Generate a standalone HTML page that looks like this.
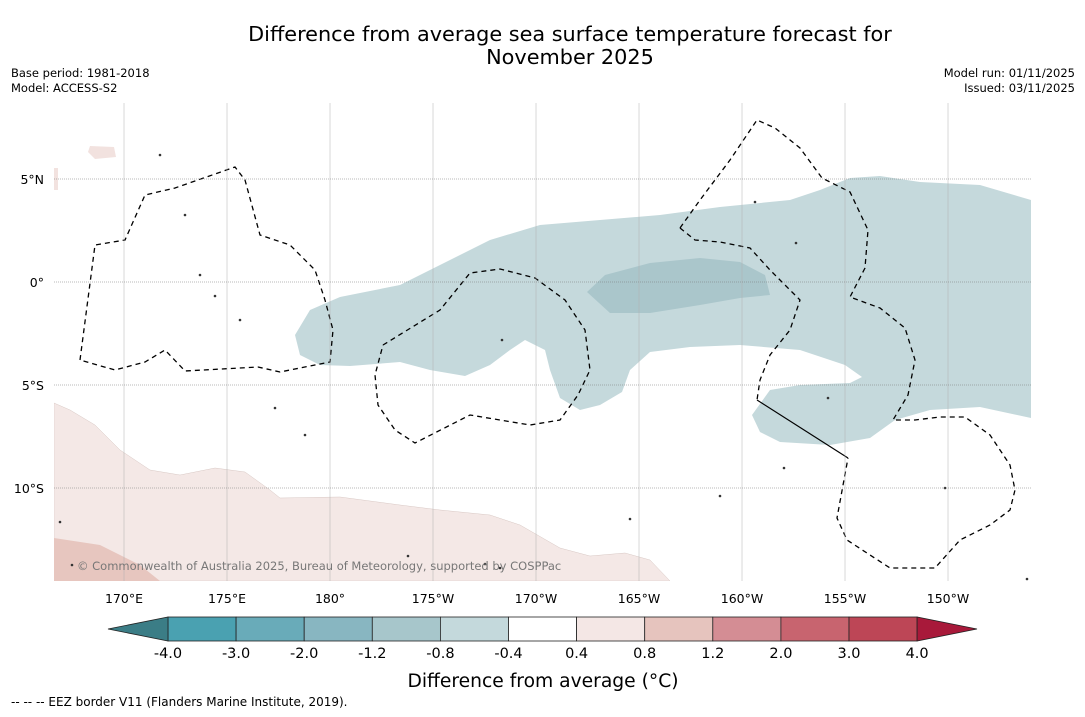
<!DOCTYPE html>
<html><head><meta charset="utf-8"><style>
body{margin:0;background:#fff;width:1085px;height:713px;overflow:hidden;font-family:"DejaVu Sans","Liberation Sans",sans-serif;}
svg text{font-family:"DejaVu Sans","Liberation Sans",sans-serif;}
</style></head><body>
<svg id="c" width="1085" height="713" xmlns="http://www.w3.org/2000/svg">
<text x="570" y="41" text-anchor="middle" font-size="20.8">Difference from average sea surface temperature forecast for</text>
<text x="570" y="64" text-anchor="middle" font-size="20.8">November 2025</text>
<text x="11" y="77" font-size="11.5">Base period: 1981-2018</text>
<text x="11" y="92" font-size="11.5">Model: ACCESS-S2</text>
<text x="1075" y="77" font-size="11.5" text-anchor="end">Model run: 01/11/2025</text>
<text x="1075" y="92" font-size="11.5" text-anchor="end">Issued: 03/11/2025</text>
<g id="map"></g>
<g id="cbar"></g>
<text x="543" y="687" text-anchor="middle" font-size="18.7">Difference from average (°C)</text>
<text x="11" y="706" font-size="12">-- -- -- EEZ border V11 (Flanders Marine Institute, 2019).</text>
</svg>
<script>
const lonTicks=[170,175,180,185,190,195,200,205,210];
const lonLabels=["170°E","175°E","180°","175°W","170°W","165°W","160°W","155°W","150°W"];
const latTicks=[5,0,-5,-10];
const latLabels=["5°N","0°","5°S","10°S"];
const cbEdges=[-4.0,-3.0,-2.0,-1.2,-0.8,-0.4,0.4,0.8,1.2,2.0,3.0,4.0];
const cbColors=["#4aa1b1","#69abb9","#88b6c1","#a7c6cb","#c4d9dc","#ffffff","#f4e7e5","#e6c4be","#d48d94","#c8646f","#bd4656"];
const cbLow="#3b7d86", cbHigh="#a8193a";
const NS="http://www.w3.org/2000/svg";
const X0=54,X1=1031,Y0=103,Y1=581;
function xs(lon){return 330+(lon-180)*20.6;}
function ys(lat){return 282-lat*20.6;}
function el(t,a,p){const e=document.createElementNS(NS,t);for(const k in a)e.setAttribute(k,a[k]);p.appendChild(e);return e;}
const map=document.getElementById('map');
const defs=el('defs',{},map);
const cp=el('clipPath',{id:'clip'},defs);el('rect',{x:X0,y:Y0,width:X1-X0,height:Y1-Y0},cp);
const g=el('g',{'clip-path':'url(#clip)'},map);
function poly(pts,fill,name,extra){const p=el('polygon',Object.assign({points:pts.map(q=>q.join(',')).join(' '),fill:fill},extra||{}),g);

return p;}
poly([[54,403],[70,410],[95,425],[120,450],[150,470],[180,475],[215,468],[245,472],[270,490],[280,498],[340,497],[400,505],[440,510],[490,515],[520,525],[560,548],[590,556],[625,553],[650,560],[670,581],[54,581]],"#f4e8e6","warm-anomaly-region",{stroke:"#d8c8c4","stroke-width":0.5});
poly([[54,538],[100,545],[140,565],[160,581],[54,581]],"#e7c6bf","warm-anomaly-region-2");
poly([[54,168],[58,168],[58,190],[54,190]],"#f2e2df","warm-patch-north");
poly([[90,146],[114,147],[116,157],[95,159],[88,152]],"#f2e2df","warm-patch-island");
poly([[295,335],[310,310],[340,297],[400,285],[440,265],[490,240],[540,225],[600,220],[660,215],[720,207],[790,200],[820,190],[850,178],[880,176],[920,182],[980,185],[1031,200],[1031,418],[980,407],[930,410],[895,420],[870,438],[830,445],[780,442],[760,432],[752,415],[770,390],[800,385],[850,383],[862,377],[845,365],[800,350],[740,345],[690,347],[650,352],[630,370],[622,392],[600,405],[580,410],[560,398],[550,370],[545,350],[525,340],[510,350],[490,365],[465,376],[430,370],[400,362],[350,366],[320,365],[300,355]],"#c5d9dc","cool-anomaly-region");
poly([[587,292],[605,275],[650,263],[700,258],[740,262],[765,275],[770,295],[740,298],[700,305],[650,313],[610,313]],"#aac6cb","cool-anomaly-core");
lonTicks.forEach((v,i)=>{const l=el('line',{x1:xs(v),x2:xs(v),y1:Y0,y2:Y1,stroke:"#b0b0b0","stroke-width":0.5},map);


const t=el('text',{x:xs(v),y:603,'font-size':12.5,'text-anchor':'middle'},map);t.textContent=lonLabels[i];

});
latTicks.forEach((v,i)=>{const l=el('line',{x1:X0,x2:X1,y1:ys(v),y2:ys(v),stroke:"#777","stroke-width":0.6,'stroke-dasharray':'1,1'},map);


const t=el('text',{x:44,y:ys(v)+5,'font-size':12.5,'text-anchor':'end'},map);t.textContent=latLabels[i];

});
function dash(pts,name){const p=el('polyline',{points:pts.map(q=>q.join(',')).join(' '),fill:'none',stroke:'#000','stroke-width':1.3,'stroke-dasharray':'5,4'},g);

}
dash([[80,360],[95,245],[125,240],[145,195],[175,188],[235,167],[245,180],[260,235],[290,245],[315,270],[325,300],[333,330],[330,362],[280,372],[258,367],[185,371],[165,350],[145,362],[115,370],[80,360]],"eez-border-west");
dash([[383,345],[440,310],[470,273],[500,269],[535,278],[565,300],[585,330],[590,370],[578,395],[560,420],[530,425],[470,415],[415,443],[395,430],[378,405],[375,375],[383,345]],"eez-border-central");
dash([[680,228],[700,200],[730,160],[757,120],[775,128],[800,148],[822,178],[850,192],[868,230],[865,268],[850,297],[880,308],[905,328],[915,360],[908,395],[893,420],[915,420],[940,417],[965,417],[990,435],[1010,465],[1015,490],[1010,510],[990,525],[960,540],[935,568],[890,568],[870,555],[847,540],[837,518],[848,458]],"eez-border-east");
dash([[680,228],[695,240],[720,242],[750,248],[770,270],[800,300],[790,330],[770,355],[760,380],[757,400]],"eez-border-east-inner");
const sl=el('line',{x1:757,y1:400,x2:848,y2:458,stroke:'#000','stroke-width':1.2},g);


[[160,155],[185,215],[200,275],[215,296],[240,320],[275,408],[305,435],[408,556],[485,564],[500,568],[72,565],[60,522],[755,202],[796,243],[828,398],[784,468],[720,496],[945,488],[1027,579],[630,519],[502,340]].forEach(p=>{
const c=el('circle',{cx:p[0],cy:p[1],r:1.3,fill:'#333'},g);

});
const cr=el('text',{x:77,y:570,'font-size':11.5,fill:'#777'},map);cr.textContent="© Commonwealth of Australia 2025, Bureau of Meteorology, supported by COSPPac";


const cb=document.getElementById('cbar');
const CB0=168,CBW=68.1,CY=617,CH=24;
function cbx(i){return CB0+i*CBW;}
cbColors.forEach((c,i)=>{const r=el('rect',{x:cbx(i),y:CY,width:CBW,height:CH,fill:c,stroke:'#222','stroke-width':0.8},cb);

});
const lt=el('polygon',{points:`${CB0},${CY} ${CB0},${CY+CH} 108,${CY+CH/2}`,fill:cbLow,stroke:'#222','stroke-width':0.8},cb);


const e=cbx(cbColors.length);
const rt=el('polygon',{points:`${e},${CY} ${e},${CY+CH} 977,${CY+CH/2}`,fill:cbHigh,stroke:'#222','stroke-width':0.8},cb);


cbEdges.forEach((v,i)=>{const t=el('text',{x:cbx(i),y:658,'font-size':14.5,'text-anchor':'middle'},cb);t.textContent=v.toFixed(1);

});
</script>
</body></html>
